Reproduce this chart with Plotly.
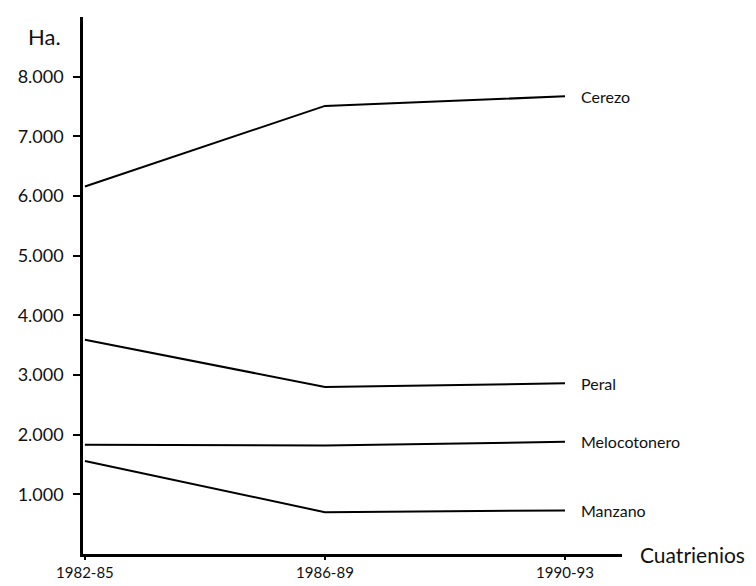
import plotly.graph_objects as go

periods = ["1982-85", "1986-89", "1990-93"]
x_pos = [0, 1, 2]
cerezo = [6160, 7510, 7670]
peral = [3590, 2800, 2860]
melocotonero = [1830, 1820, 1880]
manzano = [1560, 700, 730]
series_names = ["Cerezo", "Peral", "Melocotonero", "Manzano"]
series_values = [cerezo, peral, melocotonero, manzano]
y_tickvals = [1000, 2000, 3000, 4000, 5000, 6000, 7000, 8000]
y_ticktext = ["1.000", "2.000", "3.000", "4.000", "5.000", "6.000", "7.000", "8.000"]

FONT = "Lato"
fig = go.Figure()
for name, vals in zip(series_names, series_values):
    fig.add_trace(go.Scatter(x=x_pos, y=vals, mode="lines", name=name,
                             line=dict(color="black", width=2), showlegend=False,
                             hoverinfo="skip"))
    fig.add_annotation(x=x_pos[-1], y=vals[-1], text=name, showarrow=False,
                       xanchor="left", xshift=14, yanchor="middle",
                       font=dict(family=FONT, size=16, color="#111"))

fig.add_annotation(x=1, xref="paper", y=0, yref="y", text="Cuatrienios", showarrow=False,
                   xanchor="left", xshift=16, yanchor="middle",
                   font=dict(family=FONT, size=21, color="#111"))
fig.add_annotation(x=0, xref="paper", y=1, yref="paper", text="Ha.", showarrow=False,
                   xanchor="right", xshift=-20, yanchor="top", yshift=-4,
                   font=dict(family=FONT, size=22, color="#111"))

fig.update_layout(
    width=748, height=578,
    margin=dict(l=75, r=134, t=9, b=32),
    plot_bgcolor="white", paper_bgcolor="white",
    font=dict(family=FONT, size=16, color="#111"),
    xaxis=dict(range=[-0.008, 2.2375], tickvals=x_pos, ticktext=periods,
               showline=True, linecolor="black", linewidth=2.5, automargin=False,
               ticks="outside", ticklen=3, tickcolor="black", tickwidth=1.5,
               showgrid=False, zeroline=False, tickfont=dict(size=15)),
    yaxis=dict(range=[0, 9000], tickvals=y_tickvals, ticktext=y_ticktext,
               showline=True, linecolor="black", linewidth=2.5, automargin=False,
               ticks="outside", ticklen=7, tickcolor="black", tickwidth=1.5,
               ticklabelstandoff=6,
               showgrid=False, zeroline=False, tickfont=dict(size=18)),
)
fig.write_html("out.html")
